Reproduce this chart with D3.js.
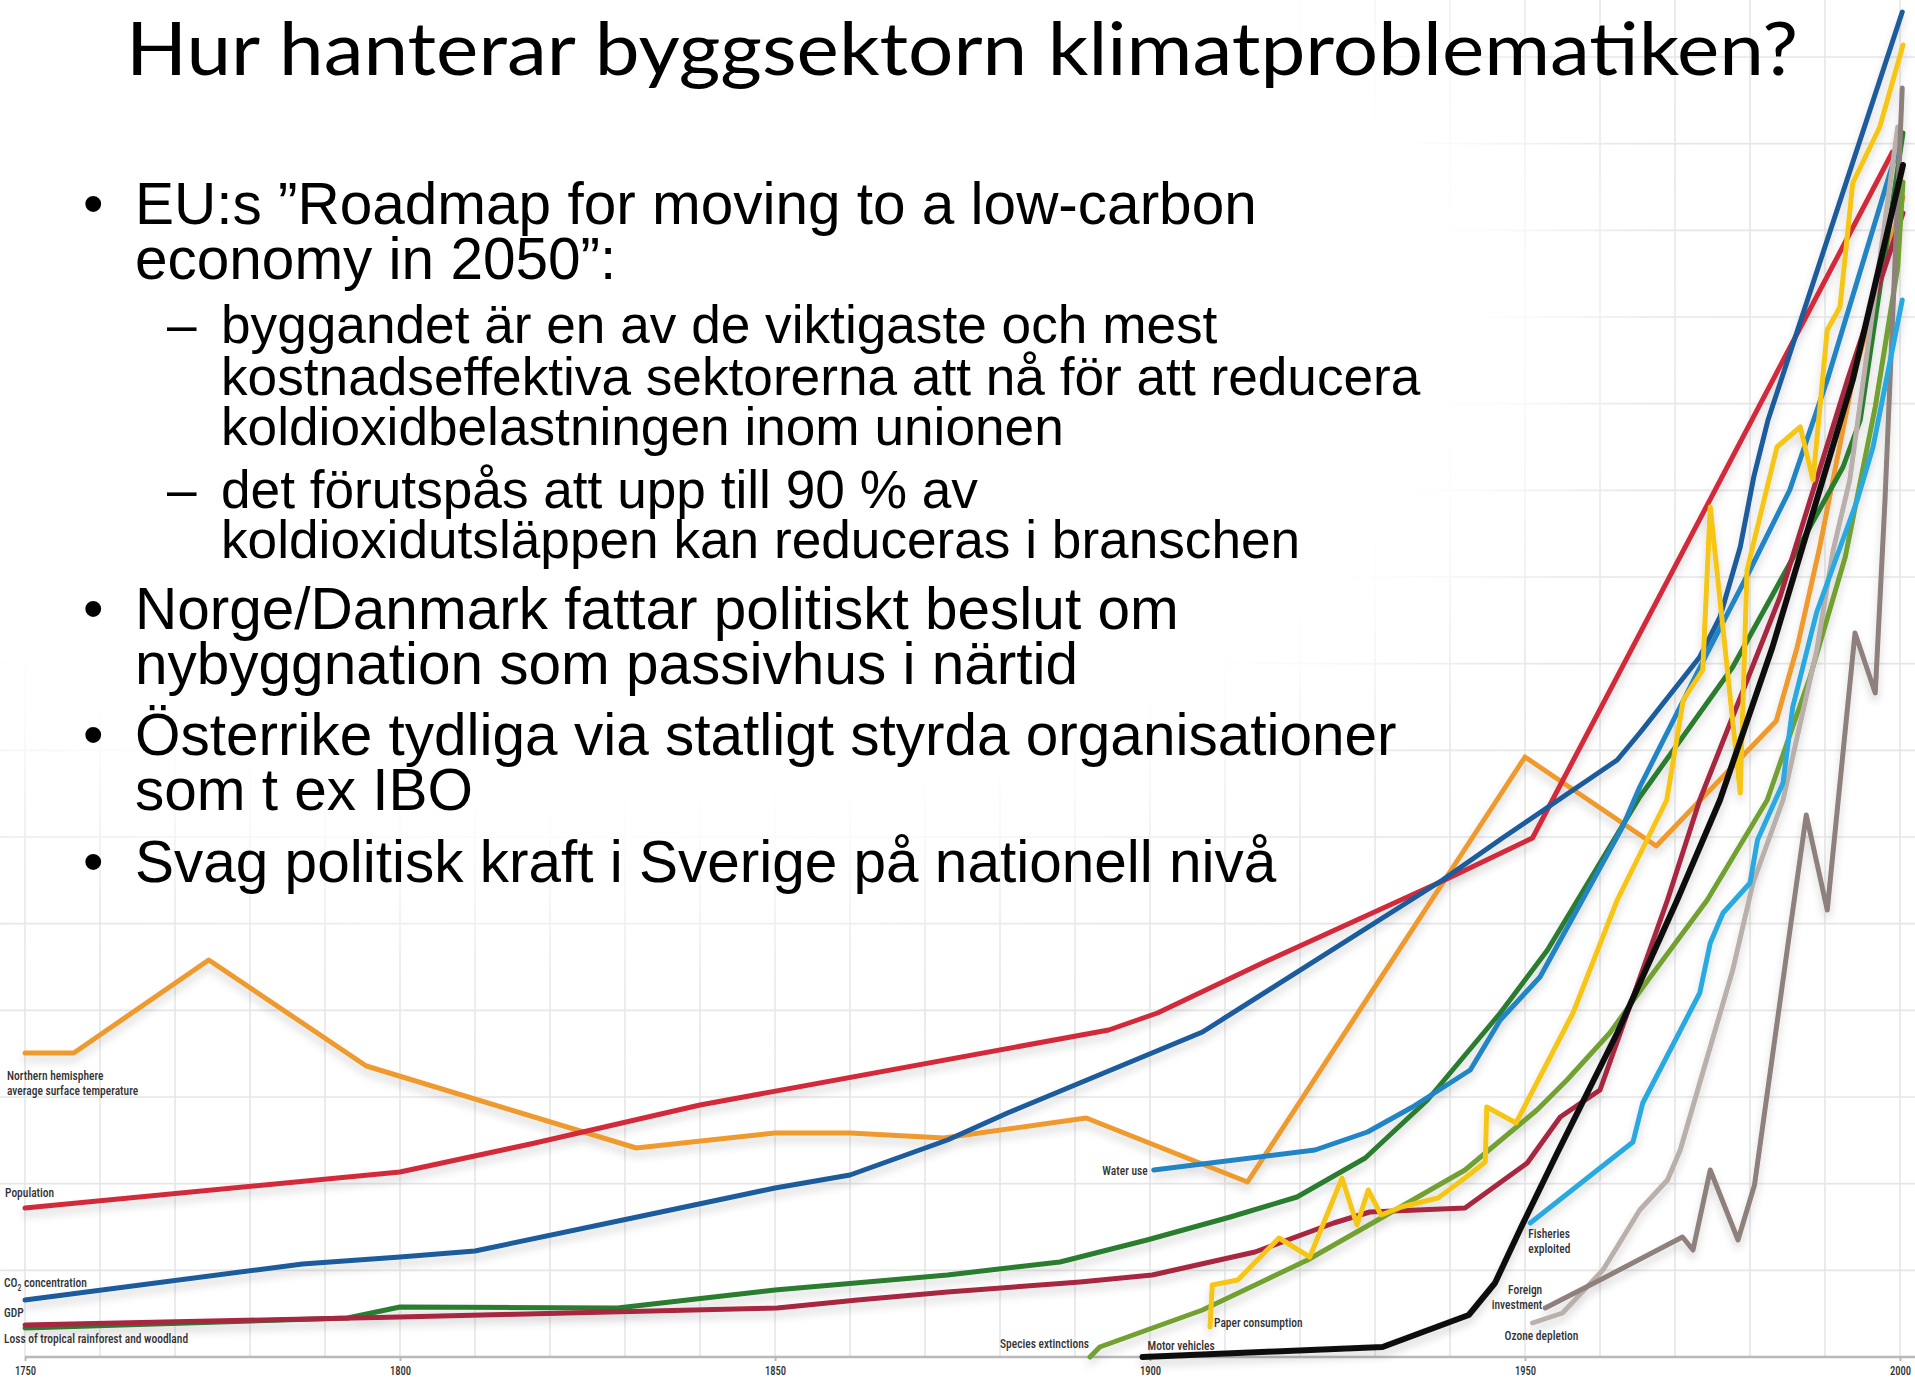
<!DOCTYPE html>
<html>
<head>
<meta charset="utf-8">
<script src="https://cdn.jsdelivr.net/npm/d3@7"></script>
<style>
  body { margin: 0; background: #fff; }
  .lbl { font-family: "Liberation Sans Narrow", "Roboto Condensed", Roboto, sans-serif; font-size: 13.5px; fill: #333; font-weight: 500; }
  .body1 { font-family: "Liberation Sans", Arial, sans-serif; fill: #000; }
</style>
</head>
<body>
<div id="slide"></div>
<script>

// ----- data: [year, relative index] ----- //

var tickYears = [1750, 1800, 1850, 1900, 1950, 2000]

var temperature = [[1750, 30.4], [1756.5, 30.4], [1774.5, 39.7], [1795.5, 29.1], [1831.5, 20.9], [1850, 22.4], [1860, 22.4], [1872.5, 21.9], [1891.5, 23.9], [1913, 17.5], [1950, 60], [1967.5, 51.1], [1983.5, 63.6], [1986.3, 71], [1989.3, 81], [1993.7, 97.7], [2000.4, 116]]

var population = [[1750, 14.9], [1800, 18.5], [1818, 21.4], [1840, 25.2], [1894.5, 32.7], [1901, 34.4], [1915, 39.4], [1939.3, 47.7], [1951, 51.9], [1999, 120.5]]

var co2 = [[1750, 5.7], [1787, 9.3], [1800, 10.0], [1810, 10.6], [1831, 13.9], [1850, 16.9], [1860, 18.2], [1873, 21.7], [1881, 24.4], [1907, 32.5], [1939, 47.7], [1947, 51.9], [1962.3, 59.7], [1965.3, 62.4], [1973.3, 70], [1976, 74], [1978.7, 81], [1980.5, 88], [1982.4, 93.7], [2000.3, 134.5]]

var gdp = [[1750, 2.9], [1793, 3.9], [1800, 5.0], [1829, 4.9], [1850, 6.7], [1873, 8.2], [1888, 9.5], [1899.6, 11.7], [1910.7, 14.0], [1919.6, 16.0], [1928.7, 19.9], [1937, 25.7], [1946.7, 34.4], [1953, 40.7], [1965.3, 56], [1977.7, 69], [1992.4, 89], [1994.7, 93.7], [2000.4, 122.4]]

var rainforest = [[1750, 3.2], [1800, 4.0], [1850.3, 4.9], [1861, 5.7], [1873, 6.5], [1890.7, 7.5], [1900.3, 8.2], [1914, 10.5], [1924.5, 13.4], [1929.3, 14.5], [1942, 14.9], [1950.3, 19.4], [1954.7, 24.0], [1960, 26.7], [1969, 45.7], [1973.3, 55.7], [1984, 76], [1993, 97.7], [2000.4, 114.4]]

var waterUse = [[1900.5, 18.7], [1922, 20.7], [1929, 22.5], [1935, 25], [1942.7, 28.7], [1946.7, 33.7], [1952, 38], [1963, 53], [1965.3, 57], [1974.3, 70.4], [1980, 78.7], [1985.3, 86.7], [1990.3, 97.7], [1999.6, 120.7]]

var species = [[1892, 0], [1893.3, 1.0], [1907, 4.7], [1921, 9.7], [1932, 14.4], [1942, 18.7], [1951.6, 24.7], [1955.6, 27.7], [1961.3, 32.4], [1966.7, 38], [1974.3, 45.7], [1982.3, 55.7], [1988, 68], [1992.7, 80], [1996.7, 95], [1999.7, 109], [2000.4, 117.5]]

var paper = [[1908, 3.0], [1908.3, 7.2], [1911.7, 7.7], [1917.2, 11.9], [1921.3, 10.0], [1925.6, 17.9], [1927.6, 13.2], [1929.1, 16.7], [1930.8, 14.2], [1933.5, 15.0], [1938.4, 15.9], [1942, 17.9], [1944.7, 19.5], [1944.9, 25.0], [1948.8, 23.4], [1956.4, 34.4], [1962.3, 45.7], [1968.9, 55.7], [1971.1, 65.7], [1973.7, 68.7], [1974.7, 85], [1978.7, 56.4], [1979.6, 78.7], [1983.6, 91], [1986.7, 93], [1988.4, 87.7], [1990.3, 102.7], [1992, 105], [1993.7, 117.4], [1997.3, 123], [2000.4, 131.2]]

var motor = [[1899, 0], [1931, 1.0], [1942.5, 4.2], [1946, 7.4], [1949.5, 13], [1954.3, 20.4], [1962.3, 32.4], [1970.3, 45.7], [1976, 55.7], [1983, 71], [1993.7, 97.7], [2000.4, 119.2]]

var fisheries = [[1950.7, 13.4], [1964.4, 21.5], [1965.7, 25.4], [1973.3, 36.4], [1974.7, 41.4], [1976.4, 44.4], [1980, 47.4], [1981, 51.7], [1984.4, 57.4], [1985.7, 65], [1988.9, 74.5], [1994.3, 85.7], [1996.4, 91], [2000.3, 105.7]]

var foreignInv = [[1952.7, 4.9], [1960, 7.7], [1971, 12], [1972.4, 10.7], [1974.7, 18.7], [1978.4, 11.7], [1980.6, 17.2], [1985.2, 42], [1987.5, 54.2], [1990.3, 44.7], [1994, 72.4], [1996.7, 66.4], [1998, 85.7], [2000.3, 126.9]]

var ozone = [[1951, 3.4], [1955, 4.4], [1960.4, 8.7], [1965.3, 14.7], [1969, 17.7], [1970.7, 20.7], [1973.3, 27.4], [1977.7, 38.7], [1980.4, 47.4], [1984.4, 55.7], [1988.9, 70.7], [1991.1, 80.7], [1993.3, 87.7], [1999.7, 123]]

var seriesData = [temperature, population, co2, gdp, rainforest, waterUse, species, ozone, foreignInv, fisheries, paper, motor]
var seriesColors = ["#ef9a2f", "#d2293a", "#1b5c9c", "#2b7b2f", "#a7273f", "#2084c4", "#72a133", "#b9afab", "#8e807b", "#29a9e1", "#f6c614", "#111111"]

var title = "Hur hanterar byggsektorn klimatproblematiken?"
var bullets = [
    { level: 1, lines: ["EU:s \u201DRoadmap for moving to a low-carbon", "economy in 2050\u201D:"] },
    { level: 2, lines: ["byggandet är en av de viktigaste och mest", "kostnadseffektiva sektorerna att nå för att reducera", "koldioxidbelastningen inom unionen"] },
    { level: 2, lines: ["det förutspås att upp till 90 % av", "koldioxidutsläppen kan reduceras i branschen"] },
    { level: 1, lines: ["Norge/Danmark fattar politiskt beslut om", "nybyggnation som passivhus i närtid"] },
    { level: 1, lines: ["Österrike tydliga via statligt styrda organisationer", "som t ex IBO"] },
    { level: 1, lines: ["Svag politisk kraft i Sverige på nationell nivå"] }
]


// ----- svg, scales ----- //

var W = 1915, H = 1380

var svg = d3.select("#slide")
    .append("svg")
    .attr("width", W)
    .attr("height", H)

var x = d3.scaleLinear()
    .domain([1750, 2000])
    .range([25, 1900])

var y = d3.scaleLinear()
    .domain([0, 130])
    .range([1357, 57])

var defs = svg.append("defs")

var shadow = defs.append("filter").attr("id", "shadow")
    .attr("x", "-5%").attr("y", "-5%").attr("width", "110%").attr("height", "115%")
shadow.append("feDropShadow")
    .attr("dx", 0).attr("dy", 6).attr("stdDeviation", 4)
    .attr("flood-color", "#000").attr("flood-opacity", 0.16)

var blur = defs.append("filter").attr("id", "softblur")
    .attr("x", "-50%").attr("y", "-50%").attr("width", "200%").attr("height", "200%")
blur.append("feGaussianBlur").attr("stdDeviation", 70)

var mask = defs.append("mask").attr("id", "gridMask")
    .attr("maskUnits", "userSpaceOnUse")
    .attr("x", 0).attr("y", 0).attr("width", W).attr("height", H)
mask.append("rect").attr("width", W).attr("height", H).attr("fill", "#fff")
mask.append("ellipse")
    .attr("cx", 620).attr("cy", 330).attr("rx", 960).attr("ry", 580)
    .attr("fill", "#000").attr("filter", "url(#softblur)")


// ----- grid ----- //

var grid = svg.append("g").attr("mask", "url(#gridMask)")

grid.selectAll(".vgrid")
    .data(d3.range(1750, 2001, 10))
    .enter().append("line")
    .attr("class", "vgrid")
    .attr("x1", d => x(d)).attr("x2", d => x(d))
    .attr("y1", 0).attr("y2", y(0))
    .attr("stroke", "#e6e6e6").attr("stroke-width", 1.6)

grid.selectAll(".hgrid")
    .data(d3.range(1, 16).map(i => i * 130 / 15))
    .enter().append("line")
    .attr("class", "hgrid")
    .attr("x1", 0).attr("x2", W)
    .attr("y1", d => y(d)).attr("y2", d => y(d))
    .attr("stroke", "#e6e6e6").attr("stroke-width", 1.6)


// ----- axis ----- //

var axis = svg.append("g")
    .attr("transform", "translate(0," + y(0) + ")")
    .call(d3.axisBottom(x).tickValues(tickYears).tickFormat(d3.format("d")).tickSize(4).tickPadding(5))

axis.select(".domain").remove()
axis.insert("line", ":first-child")
    .attr("x1", x(1750)).attr("x2", W)
    .attr("stroke", "#b9b9b9").attr("stroke-width", 2.5)
axis.selectAll(".tick line").attr("stroke", "#b9b9b9").attr("stroke-width", 2)
axis.selectAll(".tick text")
    .attr("class", "lbl")
    .style("font-size", "12.5px")
    .attr("fill", "#4a4a4a")
axis.selectAll(".tick text").each(function () {
    var w = this.getComputedTextLength()
    d3.select(this).attr("textLength", w * 0.85).attr("lengthAdjust", "spacingAndGlyphs")
})


// ----- lines ----- //

var line = d3.line()
    .x(d => x(d[0]))
    .y(d => y(d[1]))

svg.append("g")
    .attr("filter", "url(#shadow)")
    .selectAll(".series")
    .data(seriesData)
    .enter()
    .append("path")
    .attr("class", "series")
    .attr("fill", "none")
    .attr("stroke", (d, i) => seriesColors[i])
    .attr("stroke-width", (d, i) => i === seriesData.length - 1 ? 6 : 5)
    .attr("stroke-linejoin", "round")
    .attr("stroke-linecap", "round")
    .attr("d", line)


// ----- series labels ----- //

var labels = svg.append("g")

function addLabel(txt, px, py, anchor) {
    var t = labels.append("text").attr("class", "lbl")
        .attr("x", px).attr("y", py)
        .attr("text-anchor", anchor || "start")
        .text(txt)
    // condensed look of the original labels
    var w = t.node().getComputedTextLength()
    t.attr("textLength", w * 0.85).attr("lengthAdjust", "spacingAndGlyphs")
    return t
}

addLabel("Northern hemisphere", 7, 1080)
addLabel("average surface temperature", 7, 1095)
addLabel("Population", 5, 1197)
var co2Label = labels.append("text").attr("class", "lbl").attr("x", 4).attr("y", 1287)
co2Label.append("tspan").text("CO")
co2Label.append("tspan").attr("dy", 4).style("font-size", "9px").text("2")
co2Label.append("tspan").attr("dy", -4).text(" concentration")
co2Label.attr("textLength", co2Label.node().getComputedTextLength() * 0.85).attr("lengthAdjust", "spacingAndGlyphs")
addLabel("GDP", 4, 1317)
addLabel("Loss of tropical rainforest and woodland", 4, 1343)
addLabel("Water use", x(waterUse[0][0]) - 6, 1175, "end")
addLabel("Species extinctions", x(species[0][0]) - 1, 1348, "end")
addLabel("Motor vehicles", x(motor[0][0]) + 5, 1350)
addLabel("Paper consumption", x(paper[0][0]) + 4, 1327)
addLabel("Fisheries", x(fisheries[0][0]) - 2, 1238)
addLabel("exploited", x(fisheries[0][0]) - 2, 1253)
addLabel("Foreign", x(foreignInv[0][0]) - 3, 1294, "end")
addLabel("investment", x(foreignInv[0][0]) - 3, 1309, "end")
addLabel("Ozone depletion", x(ozone[0][0]) - 28, 1340)


// ----- title and bullets ----- //

var titleText = svg.append("text")
    .attr("x", 126).attr("y", 75)
    .style("font-family", "Lato, 'Open Sans', sans-serif")
    .style("font-size", "74px")
    .attr("fill", "#000")
    .attr("textLength", 1672)
    .attr("lengthAdjust", "spacingAndGlyphs")
    .text(title)

var baselines = [[223.5, 278.5], [343, 394.5, 444.5], [508, 558], [629, 684], [755, 810], [882]]

bullets.forEach(function (b, bi) {
    var fs = b.level === 1 ? 58.5 : 53.2
    var tx = b.level === 1 ? 135 : 221
    svg.append("text").attr("class", "body1")
        .attr("x", b.level === 1 ? 83 : 167)
        .attr("y", baselines[bi][0])
        .style("font-size", fs + "px")
        .text(b.level === 1 ? "\u2022" : "\u2013")
    b.lines.forEach(function (t, li) {
        svg.append("text").attr("class", "body1")
            .attr("x", tx)
            .attr("y", baselines[bi][li])
            .style("font-size", fs + "px")
            .text(t)
    })
})

</script>
</body>
</html>
